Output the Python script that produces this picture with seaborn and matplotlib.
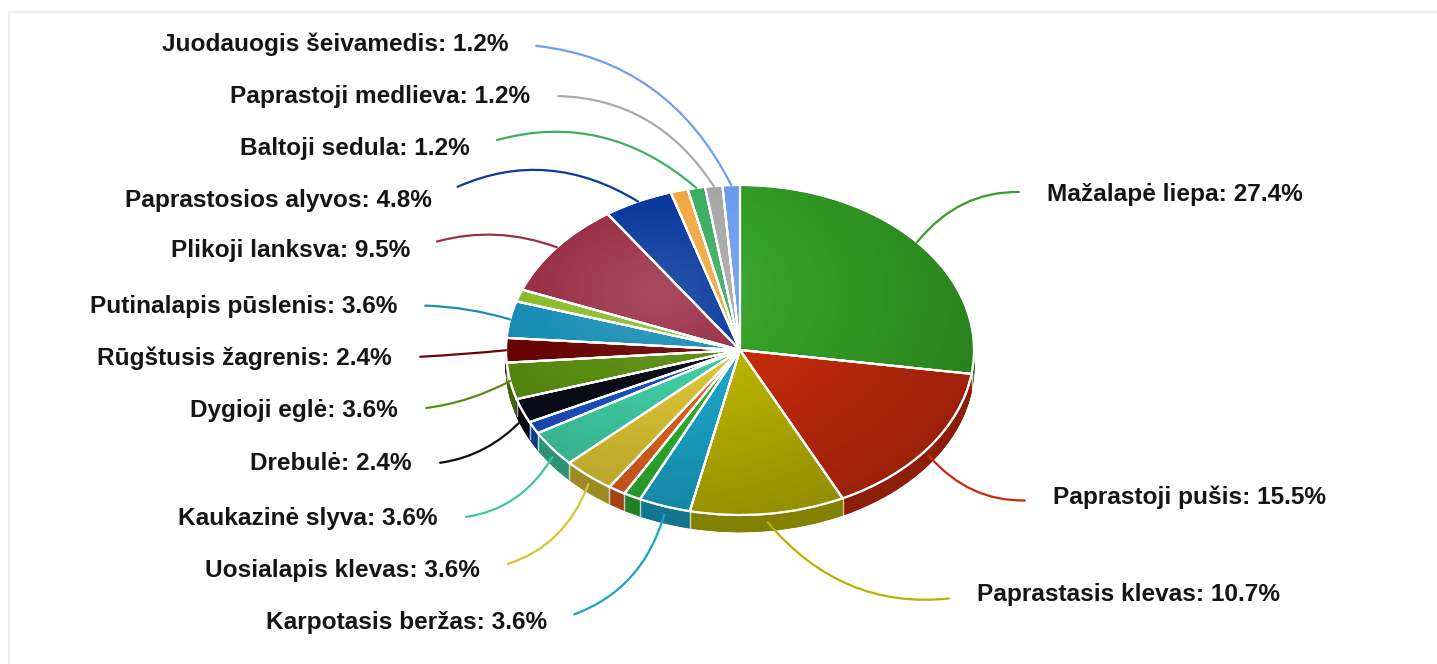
import numpy as np
import matplotlib
matplotlib.use("Agg")
import matplotlib.pyplot as plt
import seaborn as sns
from matplotlib.patches import Ellipse
from matplotlib.lines import Line2D

# ---------------- data ----------------
species = ["Mažalapė liepa", "Paprastoji pušis", "Paprastasis klevas", "Karpotasis beržas",
           "", "", "Uosialapis klevas", "Kaukazinė slyva", "", "Drebulė", "Dygioji eglė",
           "Rūgštusis žagrenis", "Putinalapis pūslenis", "", "Plikoji lanksva",
           "Paprastosios alyvos", "", "Baltoji sedula", "Paprastoji medlieva",
           "Juodauogis šeivamedis"]
shares = [27.4, 15.5, 10.7, 3.6, 1.2, 1.2, 3.6, 3.6, 1.2, 2.4, 3.6,
          2.4, 3.6, 1.2, 9.5, 4.8, 1.2, 1.2, 1.2, 1.2]
slice_colors = ["#34a026", "#c42a0c", "#b8b200", "#1ba3c6", "#30b030", "#e06020",
                "#d8c132", "#3ec9a0", "#1b4fbf", "#0b0c18", "#5a8c12", "#6b0505",
                "#1a8fb5", "#8cbc2c", "#9a3048", "#0a3a9e", "#f2aa44", "#3daf63",
                "#aaaaaa", "#6e9ff0"]

# ---------------- layout (label anchors, pixels from top-left) ----------------
label_anchor = {
    "Juodauogis šeivamedis": (508, 44), "Paprastoji medlieva": (530, 97),
    "Baltoji sedula": (470, 149), "Paprastosios alyvos": (432, 200),
    "Plikoji lanksva": (410, 251), "Putinalapis pūslenis": (397, 306),
    "Rūgštusis žagrenis": (392, 358), "Dygioji eglė": (398, 410),
    "Drebulė": (412, 464), "Kaukazinė slyva": (438, 518),
    "Uosialapis klevas": (480, 570), "Karpotasis beržas": (547, 622),
    "Mažalapė liepa": (1047, 195), "Paprastoji pušis": (1053, 497),
    "Paprastasis klevas": (977, 594),
}

W, H = 1437, 664
CX, CY = 740, 350          # pie centre (pixels)
RX, RY = 234, 165          # ellipse radii (pixels)
DEPTH = 17                 # 3D rim thickness (pixels)
K = RX / RY                # data y scaling so a circle becomes an ellipse

sns.set_theme(style="white")
plt.rcParams["font.family"] = ["Liberation Sans", "DejaVu Sans"]

fig = plt.figure(figsize=(W / 100, H / 100), dpi=100)
fig.patch.set_facecolor("white")
ax = fig.add_axes([0, 0, 1, 1])

pal = sns.color_palette(slice_colors)
dark = [tuple(c * 0.72 for c in col) for col in pal]
top_center = (CX, (H - CY) * K)

# rim (stacked, darker)
n_layers = 34
for i in range(n_layers, 0, -1):
    off = i * DEPTH / n_layers * K
    ax.pie(shares, colors=dark, startangle=90, counterclock=False, radius=RX,
           center=(top_center[0], top_center[1] - off),
           wedgeprops=dict(linewidth=0.6))
    for w in ax.patches[-len(shares):]:
        w.set_edgecolor(w.get_facecolor())

# separators on the rim
fracs = np.cumsum([0] + shares) / np.sum(shares) * 2 * np.pi
for th in fracs:
    if np.cos(th) < -0.02:
        x = CX + RX * np.sin(th)
        ytop = (H - (CY - RY * np.cos(th))) * K
        ax.plot([x, x], [ytop, ytop - DEPTH * K], color="white", lw=1.0, alpha=0.7, zorder=3)

# top face
ax.pie(shares, colors=pal, startangle=90, counterclock=False, radius=RX,
       center=top_center, wedgeprops=dict(edgecolor="white", linewidth=1.5))

# lighting overlay
n = 300
u = np.linspace(-1, 1, n)
v = np.linspace(1, -1, n)
U, V = np.meshgrid(u, v)
d = np.sqrt((U + 0.35) ** 2 + (V - 0.35) ** 2)
t = 0.55 - d
rgba = np.zeros((n, n, 4))
rgba[..., :3] = np.where(t[..., None] > 0, 1.0, 0.0)
rgba[..., 3] = np.clip(np.where(t > 0, t * 0.25, -t * 0.22), 0, 0.25)
im = ax.imshow(rgba, extent=(CX - RX, CX + RX, top_center[1] - RX, top_center[1] + RX),
               origin="upper", zorder=4, interpolation="bilinear")
im.set_clip_path(Ellipse(top_center, 2 * RX, 2 * RX, transform=ax.transData))

# white edges again above the overlay
wed = ax.pie(shares, colors=pal, startangle=90, counterclock=False, radius=RX,
             center=top_center, wedgeprops=dict(edgecolor="white", linewidth=1.5,
                                                facecolor="none"))[0]
for w in wed:
    w.set_zorder(5)

# labels with leader lines
for i, (name, val) in enumerate(zip(species, shares)):
    if not name:
        continue
    mid = (fracs[i] + fracs[i + 1]) / 2
    px = CX + RX * np.sin(mid)
    py = CY - RY * np.cos(mid)
    if np.cos(mid) < -0.3:
        py += DEPTH * 0.5
    tx, ty = label_anchor[name]
    left = tx < px
    rel = float(np.clip((ty - CY) / 150.0, -1, 1))
    rad = 0.3 * rel if left else -0.3 * rel
    ax.annotate(f"{name}: {val:.1f}%", xy=(px, (H - py) * K),
                xytext=(tx, H - ty), textcoords="figure pixels",
                ha="right" if left else "left", va="center",
                fontsize=17.6, fontweight="bold", color="#151515", zorder=10,
                arrowprops=dict(arrowstyle="-", color=pal[i], lw=1.6,
                                shrinkA=18, shrinkB=0,
                                relpos=(1, 0.5) if left else (0, 0.5),
                                connectionstyle=f"arc3,rad={rad:.3f}"))

ax.set_xlim(0, W)
ax.set_ylim(0, H * K)
ax.set_aspect("auto")
ax.axis("off")

# faint container border
fig.add_artist(Line2D([9 / W, 1], [1 - 12 / H, 1 - 12 / H], transform=fig.transFigure,
                      color="#ededed", lw=1.5))
fig.add_artist(Line2D([9 / W, 9 / W], [0, 1 - 12 / H], transform=fig.transFigure,
                      color="#ededed", lw=1.5))

fig.savefig("out.png", dpi=100, facecolor="white")
